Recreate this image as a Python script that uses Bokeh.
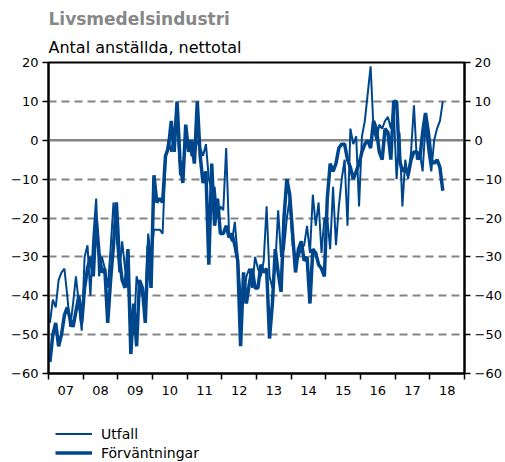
from bokeh.plotting import figure
from bokeh.layouts import column
from bokeh.models import FixedTicker, LinearAxis, Range1d, Span, Legend, LegendItem, Title
from bokeh.embed import file_html
from bokeh.resources import INLINE

start_year = 2007
year_labels = ["07", "08", "09", "10", "11", "12", "13", "14", "15", "16", "17", "18"]
y_ticks = [-60, -50, -40, -30, -20, -10, 0, 10, 20]

# Förväntningar (thick), monthly from Jan 2007
forvantningar = [
    -57, -50, -47, -53, -50, -45, -43, -46, -48, -44, -40, -47,
    -38, -33, -30, -35, -20, -29, -34, -33, -47, -36, -27, -16,
    -30, -36, -38, -28, -55, -42, -53, -36, -38, -47, -27, -38,
    -9, -16, -15, -16, -4, -2, 5, -3, 10, -5, -11, 4,
    -3, 0, -6, 10, -4, -11, -8, -32, -6, -22, -15, -24,
    -24, -22, -25, -24, -27, -31, -53, -34, -42, -37, -33, -38,
    -38, -32, -34, -33, -51, -42, -28, -34, -39, -20, -10, -14,
    -24, -34, -28, -26, -31, -30, -42, -28, -29, -32, -33, -35,
    -15, -6, -8, -6, -2, -1, -1, -5, -7, -10, -8, -6,
    -3, -1, 0, -2, 5, 3, -3, -5, 3, 2, -5, 10,
    10, -5, -8, -7, -9, -5, -3, -3, -5, 2, 7, 2,
    -5, -6, -5, -7, -13,
]

# Utfall (thin), monthly from Jan 2007
utfall = [
    -47, -41, -43, -36, -34, -33, -40, -48, -42, -35, -42, -49,
    -30, -27, -40, -25, -15, -35, -30, -33, -38, -28, -16, -24,
    -34, -26, -33, -37, -45, -50, -35, -38, -40, -42, -24, -30,
    -23, -23, -23, -24, -5, 0, -3, 2, 8, -9, -7, 0,
    0, -4, -4, 0, -2, -4, -1, -10, -13, -12, -20, -17,
    -18, -2, -24, -26, -21, -30, -40, -42, -35, -33, -38, -30,
    -33, -35, -31, -17, -35, -38, -32, -18, -30, -28, -20, -15,
    -27, -30, -30, -28, -27, -22, -29, -14, -22, -16, -29, -20,
    -20, -28, -12, -27, -17, -10, -5, -22, 3, -1, 1, -17,
    1, 5, 12, 19, 3, 0, 4, 3, 5, 6, 3, 8,
    -10, 2, -17, -5, -10, -3, 9, -5, -3, -8, 4, -3,
    -8, 0, 3, 5, 10,
]

n = len(utfall)
x = [start_year - 0.5 + (i + 0.5) / 12 for i in range(n)]

FONT = "DejaVu Sans"
BLUE = "#00468c"
GRID = "#848484"

p = figure(width=505, height=410, output_backend="svg", toolbar_location=None,
           x_range=Range1d(start_year - 0.5, start_year + len(year_labels) - 0.5),
           y_range=Range1d(-60, 20),
           min_border_left=48, min_border_right=41, min_border_top=62, min_border_bottom=37,
           x_axis_location="below", y_axis_location="left")
p.background_fill_color = "white"
p.border_fill_color = "white"
p.outline_line_color = "black"
p.outline_line_width = 2

# grid
p.xgrid.visible = False
p.ygrid.ticker = FixedTicker(ticks=[t for t in y_ticks if t not in (0, 20, -60)])
p.ygrid.grid_line_color = GRID
p.ygrid.grid_line_dash = "8 5"
p.ygrid.grid_line_width = 2
zero = Span(location=0, dimension="width", line_color=GRID, line_width=2.5, level="underlay")
p.add_layout(zero)

# y axes
def style_y(ax):
    ax.ticker = FixedTicker(ticks=y_ticks)
    ax.axis_line_color = "black"
    ax.axis_line_width = 2
    ax.major_tick_line_color = "black"
    ax.major_tick_line_width = 1.5
    ax.major_tick_out = 6
    ax.major_tick_in = 0
    ax.minor_tick_line_color = None
    ax.major_label_standoff = 4
    ax.major_label_text_font = FONT
    ax.major_label_text_font_size = "13px"
    ax.major_label_text_color = "black"

style_y(p.yaxis[0])
right_ax = LinearAxis()
style_y(right_ax)
p.add_layout(right_ax, "right")

# x axis: year boundaries as (minor) ticks, labels centred on years
xa = p.xaxis[0]
years = [start_year + k for k in range(len(year_labels))]
xa.ticker = FixedTicker(ticks=years, minor_ticks=[start_year - 0.5 + k for k in range(len(year_labels) + 1)])
xa.major_label_overrides = {yr: lab for yr, lab in zip(years, year_labels)}
xa.major_tick_line_color = None
xa.major_tick_out = 6
xa.major_tick_in = 0
xa.minor_tick_line_color = "black"
xa.minor_tick_line_width = 1.5
xa.minor_tick_out = 6
xa.minor_tick_in = 0
xa.axis_line_color = "black"
xa.axis_line_width = 2
xa.major_label_standoff = 6
xa.major_label_text_font = FONT
xa.major_label_text_font_size = "13px"
xa.major_label_text_color = "black"

# lines
r_f = p.line(x, forvantningar, line_color=BLUE, line_width=3.5)
r_u = p.line(x, utfall, line_color=BLUE, line_width=2)

# titles
p.add_layout(Title(text="Antal anställda, nettotal", text_font=FONT, text_font_size="16px",
                   text_font_style="normal", text_color="black", align="left", standoff=12), "above")
p.add_layout(Title(text="Livsmedelsindustri", text_font=FONT, text_font_size="17px",
                   text_font_style="bold", text_color="#878787", align="left", standoff=1), "above")

# legend panel below the chart (series drawn out of view, only the legend shows)
p2 = figure(width=505, height=52, output_backend="svg", toolbar_location=None,
            x_range=Range1d(start_year - 0.5, start_year + len(year_labels) - 0.5),
            y_range=Range1d(200, 300),
            x_axis_location=None, y_axis_location=None,
            min_border_left=0, min_border_right=0, min_border_top=0, min_border_bottom=0)
p2.outline_line_color = None
p2.grid.visible = False
k_u = p2.line(x, utfall, line_color=BLUE, line_width=2)
k_f = p2.line(x, forvantningar, line_color=BLUE, line_width=3.5)
legend = Legend(items=[LegendItem(label="Utfall", renderers=[k_u]),
                       LegendItem(label="Förväntningar", renderers=[k_f])],
                location=(7, 0), orientation="vertical",
                glyph_width=37, glyph_height=19, label_height=19, label_standoff=9,
                spacing=0, padding=0, margin=0,
                border_line_color=None, background_fill_alpha=0,
                label_text_font=FONT, label_text_font_size="14px", label_text_color="black")
p2.add_layout(legend)

open("out.html", "w").write(file_html(column(p, p2, spacing=0), INLINE))
